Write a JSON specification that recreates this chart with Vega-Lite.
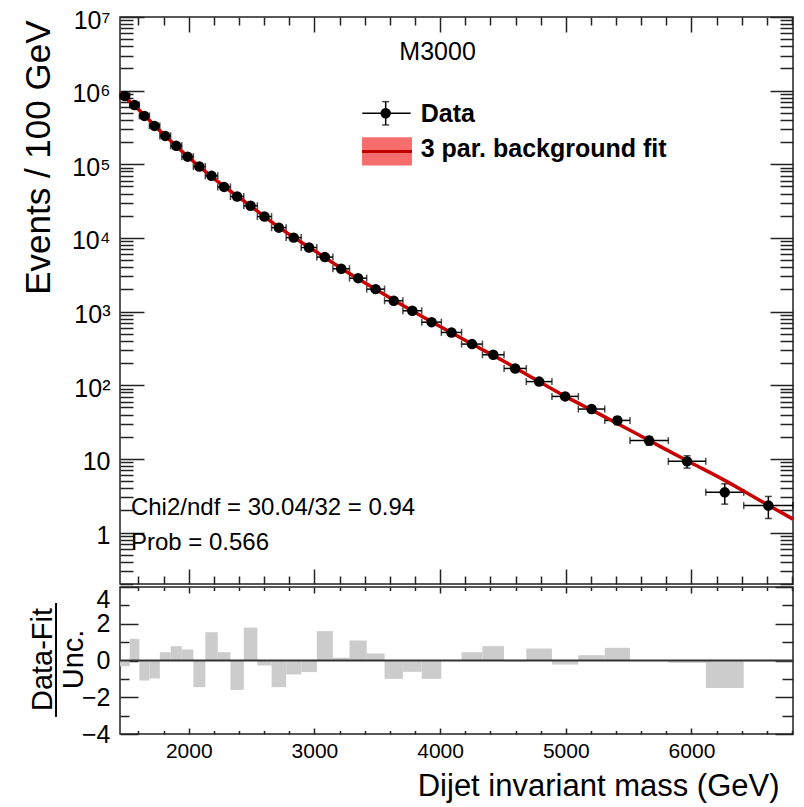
{
 "$schema": "https://vega.github.io/schema/vega-lite/v6.json",
 "autosize": {"type": "pad"},
 "padding": {"left": 20, "top": 7, "right": 5, "bottom": 5},
 "background": "white",
 "config": {
  "view": {"stroke": "#222", "strokeWidth": 1.5},
  "axis": {"labelFont": "Liberation Sans", "titleFont": "Liberation Sans", "labelColor": "#000", "titleColor": "#000", "tickColor": "#222", "tickWidth": 1.5, "domain": false, "grid": false, "titleFontWeight": "normal", "labelOverlap": false, "labelFlush": false},
  "text": {"font": "Liberation Sans", "color": "#000"}
 },
 "datasets": {
  "bins": [
   {"lo": 1453, "hi": 1530, "c": 1491.5, "v": 847000, "ylo": 845951, "yhi": 848049, "r": -0.31},
   {"lo": 1530, "hi": 1607, "c": 1568.5, "v": 640000, "ylo": 639088, "yhi": 640912, "r": 1.18},
   {"lo": 1607, "hi": 1687, "c": 1647, "v": 454000, "ylo": 453247, "yhi": 454753, "r": -1.09},
   {"lo": 1687, "hi": 1770, "c": 1728.5, "v": 332000, "ylo": 331368, "yhi": 332632, "r": -0.98},
   {"lo": 1770, "hi": 1856, "c": 1813, "v": 243000, "ylo": 242468, "yhi": 243532, "r": 0.45},
   {"lo": 1856, "hi": 1945, "c": 1900.5, "v": 178000, "ylo": 177553, "yhi": 178447, "r": 0.78},
   {"lo": 1945, "hi": 2037, "c": 1991, "v": 127000, "ylo": 126628, "yhi": 127372, "r": 0.6},
   {"lo": 2037, "hi": 2132, "c": 2084.5, "v": 93100, "ylo": 92787, "yhi": 93413, "r": -1.45},
   {"lo": 2132, "hi": 2231, "c": 2181.5, "v": 69700, "ylo": 69435, "yhi": 69965, "r": 1.54},
   {"lo": 2231, "hi": 2332, "c": 2281.5, "v": 49300, "ylo": 49079, "yhi": 49521, "r": 0.45},
   {"lo": 2332, "hi": 2438, "c": 2385, "v": 36500, "ylo": 36314, "yhi": 36686, "r": -1.6},
   {"lo": 2438, "hi": 2546, "c": 2492, "v": 27300, "ylo": 27141, "yhi": 27459, "r": 1.79},
   {"lo": 2546, "hi": 2659, "c": 2602.5, "v": 19500, "ylo": 19369, "yhi": 19631, "r": -0.27},
   {"lo": 2659, "hi": 2775, "c": 2717, "v": 13800, "ylo": 13691, "yhi": 13909, "r": -1.45},
   {"lo": 2775, "hi": 2895, "c": 2835, "v": 10100, "ylo": 10008, "yhi": 10192, "r": -0.76},
   {"lo": 2895, "hi": 3019, "c": 2957, "v": 7413, "ylo": 7336, "yhi": 7490, "r": -0.63},
   {"lo": 3019, "hi": 3147, "c": 3083, "v": 5495, "ylo": 5430, "yhi": 5560, "r": 1.6},
   {"lo": 3147, "hi": 3279, "c": 3213, "v": 3811, "ylo": 3757, "yhi": 3865, "r": 0.15},
   {"lo": 3279, "hi": 3416, "c": 3347.5, "v": 2844, "ylo": 2798, "yhi": 2890, "r": 1.09},
   {"lo": 3416, "hi": 3558, "c": 3487, "v": 2018, "ylo": 1980, "yhi": 2056, "r": 0.38},
   {"lo": 3558, "hi": 3704, "c": 3631, "v": 1403, "ylo": 1372, "yhi": 1434, "r": -1.0},
   {"lo": 3704, "hi": 3854, "c": 3779, "v": 1026, "ylo": 1000, "yhi": 1052, "r": -0.62},
   {"lo": 3854, "hi": 4010, "c": 3932, "v": 719, "ylo": 698, "yhi": 741, "r": -1.0},
   {"lo": 4010, "hi": 4171, "c": 4090.5, "v": 521, "ylo": 503, "yhi": 539, "r": 0.02},
   {"lo": 4171, "hi": 4337, "c": 4254, "v": 362, "ylo": 347, "yhi": 377, "r": 0.45},
   {"lo": 4337, "hi": 4509, "c": 4423, "v": 259, "ylo": 247, "yhi": 271, "r": 0.78},
   {"lo": 4509, "hi": 4686, "c": 4597.5, "v": 169, "ylo": 159, "yhi": 179, "r": -0.05},
   {"lo": 4686, "hi": 4890, "c": 4788, "v": 112, "ylo": 104.6, "yhi": 119.4, "r": 0.65},
   {"lo": 4890, "hi": 5100, "c": 4995, "v": 70.5, "ylo": 64.7, "yhi": 76.3, "r": -0.22},
   {"lo": 5100, "hi": 5310, "c": 5205, "v": 47.5, "ylo": 42.75, "yhi": 52.25, "r": 0.29},
   {"lo": 5310, "hi": 5511, "c": 5410.5, "v": 33.3, "ylo": 29.2, "yhi": 37.4, "r": 0.69},
   {"lo": 5511, "hi": 5816, "c": 5663.5, "v": 17.7, "ylo": 15.3, "yhi": 20.1, "r": 0.0},
   {"lo": 5816, "hi": 6114, "c": 5965, "v": 9.25, "ylo": 7.49, "yhi": 11.01, "r": -0.12},
   {"lo": 6114, "hi": 6416, "c": 6265, "v": 3.51, "ylo": 2.43, "yhi": 4.59, "r": -1.49},
   {"lo": 6416, "hi": 6808, "c": 6612, "v": 2.32, "ylo": 1.55, "yhi": 3.09, "r": -0.04}
  ],
  "fit": [
   {"m": 1453, "f": 933000}, {"m": 1600, "f": 553000}, {"m": 1800, "f": 255000},
   {"m": 2000, "f": 123500}, {"m": 2250, "f": 55000}, {"m": 2500, "f": 26500},
   {"m": 2750, "f": 12750}, {"m": 3000, "f": 6720}, {"m": 3250, "f": 3530},
   {"m": 3500, "f": 1950}, {"m": 3750, "f": 1092}, {"m": 4000, "f": 626},
   {"m": 4250, "f": 365}, {"m": 4500, "f": 215}, {"m": 4750, "f": 122},
   {"m": 5000, "f": 70}, {"m": 5250, "f": 42.1}, {"m": 5500, "f": 25.1},
   {"m": 5750, "f": 14.8}, {"m": 6000, "f": 8.8}, {"m": 6250, "f": 5.27},
   {"m": 6500, "f": 3.02}, {"m": 6808, "f": 1.52}
  ]
 },
 "spacing": 3,
 "bounds": "flush",
 "vconcat": [
  {
   "width": 673, "height": 567,
   "resolve": {"axis": {"x": "independent", "y": "independent"}},
   "layer": [
    {
     "data": {"name": "bins"},
     "mark": {"type": "rule", "color": "#000", "strokeWidth": 1.5},
     "encoding": {
      "x": {"field": "lo", "type": "quantitative", "scale": {"domain": [1453, 6808], "nice": false, "zero": false},
       "axis": {"orient": "bottom", "values": [1600,1800,2000,2200,2400,2600,2800,3000,3200,3400,3600,3800,4000,4200,4400,4600,4800,5000,5200,5400,5600,5800,6000,6200,6400,6600,6800], "labels": false, "title": null,
        "tickSize": {"condition": {"test": "datum.value % 1000 === 0", "value": -15}, "value": -8}}},
      "x2": {"field": "hi"},
      "y": {"field": "v", "type": "quantitative", "scale": {"type": "log", "domain": [0.2, 10000000], "nice": false},
       "axis": {"orient": "left", "values": [0.2,0.3,0.4,0.5,0.6,0.7,0.8,0.9,1,2,3,4,5,6,7,8,9,10,20,30,40,50,60,70,80,90,100,200,300,400,500,600,700,800,900,1000,2000,3000,4000,5000,6000,7000,8000,9000,10000,20000,30000,40000,50000,60000,70000,80000,90000,100000,200000,300000,400000,500000,600000,700000,800000,900000,1000000,2000000,3000000,4000000,5000000,6000000,7000000,8000000,9000000,10000000],
        "title": "Events / 100 GeV", "titleFontSize": 35, "titleAngle": -90, "titleAlign": "right", "titleBaseline": "alphabetic", "titleX": -71, "titleY": 3,
        "labelFontSize": 25, "labelPadding": 34, "labelOffset": 3, "labelAlign": "right", "labelBaseline": "middle",
        "tickSize": {"condition": {"test": "abs(log(datum.value)/LN10 - round(log(datum.value)/LN10)) < 0.001", "value": -24}, "value": -13},
        "labelExpr": "abs(log(datum.value)/LN10 - round(log(datum.value)/LN10)) > 0.001 ? '' : datum.value >= 100 ? '10' + ['⁰','¹','²','³','⁴','⁵','⁶','⁷'][round(log(datum.value)/LN10)] : datum.value >= 10 ? '10' : '1'"}}
     }
    },
    {
     "data": {"name": "bins"},
     "mark": {"type": "rule", "color": "#000", "strokeWidth": 1.5},
     "encoding": {
      "x": {"field": "c", "type": "quantitative",
       "axis": {"orient": "top", "values": [1600,1800,2000,2200,2400,2600,2800,3000,3200,3400,3600,3800,4000,4200,4400,4600,4800,5000,5200,5400,5600,5800,6000,6200,6400,6600,6800], "labels": false, "title": null,
        "tickSize": {"condition": {"test": "datum.value % 1000 === 0", "value": -15}, "value": -8}}},
      "y": {"field": "ylo", "type": "quantitative",
       "axis": {"orient": "right", "values": [0.2,0.3,0.4,0.5,0.6,0.7,0.8,0.9,1,2,3,4,5,6,7,8,9,10,20,30,40,50,60,70,80,90,100,200,300,400,500,600,700,800,900,1000,2000,3000,4000,5000,6000,7000,8000,9000,10000,20000,30000,40000,50000,60000,70000,80000,90000,100000,200000,300000,400000,500000,600000,700000,800000,900000,1000000,2000000,3000000,4000000,5000000,6000000,7000000,8000000,9000000,10000000],
        "labels": false, "title": null,
        "tickSize": {"condition": {"test": "abs(log(datum.value)/LN10 - round(log(datum.value)/LN10)) < 0.001", "value": -23}, "value": -13}}},
      "y2": {"field": "yhi"}
     }
    },
    {
     "data": {"name": "bins"},
     "mark": {"type": "tick", "orient": "vertical", "size": 7, "thickness": 1.5, "color": "#000"},
     "encoding": {"x": {"field": "lo", "type": "quantitative", "axis": null}, "y": {"field": "v", "type": "quantitative", "axis": null}}
    },
    {
     "data": {"name": "bins"},
     "mark": {"type": "tick", "orient": "vertical", "size": 7, "thickness": 1.5, "color": "#000"},
     "encoding": {"x": {"field": "hi", "type": "quantitative", "axis": null}, "y": {"field": "v", "type": "quantitative", "axis": null}}
    },
    {
     "data": {"name": "bins"},
     "mark": {"type": "tick", "orient": "horizontal", "size": 7, "thickness": 1.5, "color": "#000"},
     "encoding": {"x": {"field": "c", "type": "quantitative", "axis": null}, "y": {"field": "ylo", "type": "quantitative", "axis": null}}
    },
    {
     "data": {"name": "bins"},
     "mark": {"type": "tick", "orient": "horizontal", "size": 7, "thickness": 1.5, "color": "#000"},
     "encoding": {"x": {"field": "c", "type": "quantitative", "axis": null}, "y": {"field": "yhi", "type": "quantitative", "axis": null}}
    },
    {
     "data": {"name": "fit"},
     "mark": {"type": "line", "color": "#c80000", "strokeWidth": 3.5, "interpolate": "monotone"},
     "encoding": {"x": {"field": "m", "type": "quantitative", "axis": null}, "y": {"field": "f", "type": "quantitative", "axis": null}}
    },
    {
     "data": {"name": "bins"},
     "mark": {"type": "circle", "color": "#000", "size": 110, "opacity": 1},
     "encoding": {"x": {"field": "c", "type": "quantitative", "axis": null}, "y": {"field": "v", "type": "quantitative", "axis": null}}
    },
    {
     "data": {"values": [{}]},
     "mark": {"type": "rect", "color": "#f76c6c"},
     "encoding": {"x": {"datum": 3379, "type": "quantitative", "axis": null}, "x2": {"datum": 3776}, "y": {"datum": 233000, "type": "quantitative", "axis": null}, "y2": {"datum": 96000}}
    },
    {
     "data": {"values": [{}]},
     "mark": {"type": "rule", "color": "#c00000", "strokeWidth": 3},
     "encoding": {"x": {"datum": 3379, "type": "quantitative", "axis": null}, "x2": {"datum": 3776}, "y": {"datum": 149000, "type": "quantitative", "axis": null}}
    },
    {
     "data": {"values": [{}]},
     "mark": {"type": "rule", "color": "#000", "strokeWidth": 1.5},
     "encoding": {"x": {"datum": 3381, "type": "quantitative", "axis": null}, "x2": {"datum": 3766}, "y": {"datum": 494000, "type": "quantitative", "axis": null}}
    },
    {
     "data": {"values": [{}]},
     "mark": {"type": "rule", "color": "#000", "strokeWidth": 1.5},
     "encoding": {"x": {"datum": 3567, "type": "quantitative", "axis": null}, "y": {"datum": 342000, "type": "quantitative", "axis": null}, "y2": {"datum": 709000}}
    },
    {
     "data": {"values": [{}]},
     "mark": {"type": "tick", "orient": "horizontal", "size": 7, "thickness": 1.5, "color": "#000"},
     "encoding": {"x": {"datum": 3567, "type": "quantitative", "axis": null}, "y": {"datum": 342000, "type": "quantitative", "axis": null}}
    },
    {
     "data": {"values": [{}]},
     "mark": {"type": "tick", "orient": "horizontal", "size": 7, "thickness": 1.5, "color": "#000"},
     "encoding": {"x": {"datum": 3567, "type": "quantitative", "axis": null}, "y": {"datum": 709000, "type": "quantitative", "axis": null}}
    },
    {
     "data": {"values": [{}]},
     "mark": {"type": "circle", "color": "#000", "size": 110, "opacity": 1},
     "encoding": {"x": {"datum": 3567, "type": "quantitative", "axis": null}, "y": {"datum": 494000, "type": "quantitative", "axis": null}}
    },
    {
     "data": {"values": [{}]},
     "mark": {"type": "text", "text": "Data", "align": "left", "baseline": "alphabetic", "fontSize": 25, "fontWeight": "bold"},
     "encoding": {"x": {"datum": 3846, "type": "quantitative", "axis": null}, "y": {"datum": 376000, "type": "quantitative", "axis": null}}
    },
    {
     "data": {"values": [{}]},
     "mark": {"type": "text", "text": "3 par. background fit", "align": "left", "baseline": "alphabetic", "fontSize": 25, "fontWeight": "bold"},
     "encoding": {"x": {"datum": 3846, "type": "quantitative", "axis": null}, "y": {"datum": 126000, "type": "quantitative", "axis": null}}
    },
    {
     "data": {"values": [{}]},
     "mark": {"type": "text", "text": "M3000", "align": "center", "baseline": "alphabetic", "fontSize": 25},
     "encoding": {"x": {"datum": 3980, "type": "quantitative", "axis": null}, "y": {"datum": 2610000, "type": "quantitative", "axis": null}}
    },
    {
     "data": {"values": [{}]},
     "mark": {"type": "text", "text": "Chi2/ndf = 30.04/32 = 0.94", "align": "left", "baseline": "alphabetic", "fontSize": 24},
     "encoding": {"x": {"datum": 1540, "type": "quantitative", "axis": null}, "y": {"datum": 1.75, "type": "quantitative", "axis": null}}
    },
    {
     "data": {"values": [{}]},
     "mark": {"type": "text", "text": "Prob = 0.566", "align": "left", "baseline": "alphabetic", "fontSize": 24},
     "encoding": {"x": {"datum": 1540, "type": "quantitative", "axis": null}, "y": {"datum": 0.586, "type": "quantitative", "axis": null}}
    }
   ]
  },
  {
   "width": 673, "height": 147,
   "resolve": {"axis": {"x": "independent", "y": "independent"}},
   "layer": [
    {
     "data": {"name": "bins"},
     "mark": {"type": "rect", "color": "#cccccc"},
     "encoding": {
      "x": {"field": "lo", "type": "quantitative", "scale": {"domain": [1453, 6808], "nice": false, "zero": false},
       "axis": {"orient": "bottom", "values": [1600,1800,2000,2200,2400,2600,2800,3000,3200,3400,3600,3800,4000,4200,4400,4600,4800,5000,5200,5400,5600,5800,6000,6200,6400,6600,6800],
        "labelExpr": "datum.value % 1000 === 0 ? format(datum.value, 'd') : ''", "labelFontSize": 21, "labelPadding": 12.5, "labelBaseline": "top",
        "tickSize": {"condition": {"test": "datum.value % 1000 === 0", "value": -6}, "value": -3.5},
        "title": "Dijet invariant mass (GeV)", "titleFontSize": 31, "titleAlign": "right", "titleX": 659, "titleY": 61, "titleBaseline": "alphabetic"}},
      "x2": {"field": "hi"},
      "y": {"field": "r", "type": "quantitative", "scale": {"domain": [-4, 4], "nice": false, "zero": false},
       "axis": {"orient": "left", "values": [-4,-3,-2,-1,0,1,2,3,4],
        "labelExpr": "datum.value % 2 === 0 ? format(datum.value, 'd') : ''", "labelFontSize": 25, "labelPadding": 28, "labelAlign": "right",
        "labelBaseline": {"condition": {"test": "datum.value === 4", "value": "top"}, "value": "middle"},
        "tickSize": {"condition": {"test": "datum.value % 2 === 0", "value": -18}, "value": -9},
        "title": ["Data-Fit", "Unc."], "titleFontSize": 29, "titleLineHeight": 31, "titleAngle": -90, "titleAlign": "center", "titleBaseline": "alphabetic", "titleX": -69, "titleY": 72}},
      "y2": {"datum": 0}
     }
    },
    {
     "data": {"values": [{}]},
     "mark": {"type": "rule", "color": "#333", "strokeWidth": 2},
     "encoding": {
      "x": {"datum": 1453, "type": "quantitative",
       "axis": {"orient": "top", "values": [1600,1800,2000,2200,2400,2600,2800,3000,3200,3400,3600,3800,4000,4200,4400,4600,4800,5000,5200,5400,5600,5800,6000,6200,6400,6600,6800], "labels": false, "title": null,
        "tickSize": {"condition": {"test": "datum.value % 1000 === 0", "value": -6}, "value": -3.5}}},
      "x2": {"datum": 6808},
      "y": {"datum": 0, "type": "quantitative",
       "axis": {"orient": "right", "values": [-4,-3,-2,-1,0,1,2,3,4], "labels": false, "title": null,
        "tickSize": {"condition": {"test": "datum.value % 2 === 0", "value": -18}, "value": -11}}}
     }
    },
    {
     "data": {"values": [{}]},
     "mark": {"type": "rule", "color": "#000", "strokeWidth": 2},
     "encoding": {"x": {"datum": 944, "type": "quantitative", "axis": null}, "y": {"datum": 3.13, "type": "quantitative", "axis": null}, "y2": {"datum": -3.07}}
    }
   ]
  }
 ]
}
